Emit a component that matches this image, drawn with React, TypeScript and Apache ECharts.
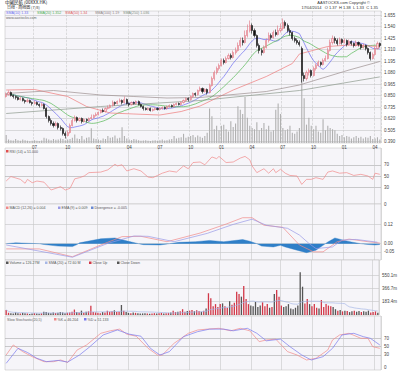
import React, { useEffect, useRef } from "react";
import * as echarts from "echarts";

// ---------- data (weekly bars, 8 Apr 2011 – 17 Apr 2014) ----------
const START_DATE = "2011-04-08";
const LAST_DATE = "2014-04-17";
const BAR_COUNT = 159;

// [open, close, low, high]
const CANDLES: number[][] = [
  [0.84,0.86,0.83,0.88],[0.86,0.88,0.85,0.90],[0.88,0.85,0.84,0.89],[0.85,0.84,0.82,0.86],[0.84,0.83,0.81,0.85],[0.83,0.81,0.80,0.84],[0.81,0.82,0.80,0.84],[0.82,0.80,0.79,0.83],
  [0.80,0.79,0.77,0.81],[0.79,0.80,0.78,0.82],[0.80,0.78,0.77,0.81],[0.78,0.77,0.75,0.79],[0.77,0.78,0.76,0.80],[0.78,0.76,0.75,0.79],[0.76,0.75,0.73,0.77],[0.75,0.76,0.74,0.78],
  [0.76,0.72,0.71,0.77],[0.72,0.64,0.62,0.73],[0.64,0.60,0.58,0.65],[0.60,0.57,0.55,0.62],[0.57,0.55,0.53,0.59],[0.55,0.57,0.54,0.59],[0.57,0.53,0.51,0.58],[0.53,0.52,0.50,0.55],
  [0.52,0.47,0.45,0.53],[0.47,0.45,0.42,0.49],[0.45,0.48,0.44,0.50],[0.48,0.55,0.47,0.57],[0.55,0.60,0.54,0.62],[0.60,0.63,0.59,0.65],[0.63,0.60,0.58,0.64],[0.60,0.62,0.59,0.63],
  [0.62,0.59,0.57,0.63],[0.59,0.61,0.58,0.62],[0.61,0.60,0.58,0.62],[0.60,0.62,0.59,0.63],[0.62,0.63,0.61,0.66],[0.63,0.65,0.62,0.66],[0.65,0.66,0.64,0.68],[0.66,0.68,0.65,0.69],
  [0.68,0.70,0.67,0.71],[0.70,0.69,0.68,0.72],[0.69,0.72,0.68,0.73],[0.72,0.73,0.71,0.75],[0.73,0.75,0.72,0.76],[0.75,0.78,0.74,0.80],[0.78,0.77,0.75,0.79],[0.77,0.79,0.76,0.80],
  [0.79,0.80,0.78,0.82],[0.80,0.78,0.76,0.81],[0.78,0.81,0.77,0.84],[0.81,0.77,0.76,0.82],[0.77,0.76,0.74,0.78],[0.76,0.78,0.75,0.79],[0.78,0.77,0.76,0.79],[0.77,0.79,0.76,0.80],
  [0.79,0.76,0.75,0.80],[0.76,0.74,0.73,0.77],[0.74,0.72,0.70,0.75],[0.72,0.71,0.70,0.73],[0.71,0.72,0.70,0.73],[0.72,0.70,0.69,0.73],[0.70,0.71,0.69,0.72],[0.71,0.72,0.70,0.73],
  [0.72,0.71,0.70,0.73],[0.71,0.72,0.70,0.73],[0.72,0.73,0.71,0.74],[0.73,0.72,0.71,0.74],[0.72,0.74,0.71,0.75],[0.74,0.75,0.73,0.76],[0.75,0.74,0.73,0.76],[0.74,0.76,0.73,0.77],
  [0.76,0.77,0.75,0.78],[0.77,0.76,0.75,0.78],[0.76,0.78,0.75,0.79],[0.78,0.80,0.77,0.81],[0.80,0.82,0.79,0.83],[0.82,0.81,0.79,0.83],[0.81,0.84,0.80,0.85],[0.84,0.87,0.83,0.88],
  [0.87,0.86,0.84,0.88],[0.86,0.90,0.85,0.91],[0.90,0.92,0.89,0.94],[0.92,0.89,0.87,0.93],[0.89,0.91,0.88,0.92],[0.91,0.88,0.86,0.92],[0.88,0.95,0.87,0.97],[0.95,1.02,0.94,1.04],
  [1.02,1.08,1.00,1.10],[1.08,1.12,1.06,1.14],[1.12,1.15,1.10,1.17],[1.15,1.20,1.14,1.22],[1.20,1.18,1.16,1.22],[1.18,1.22,1.17,1.24],[1.22,1.25,1.21,1.27],[1.25,1.23,1.21,1.27],
  [1.23,1.28,1.22,1.30],[1.28,1.30,1.26,1.33],[1.30,1.35,1.29,1.38],[1.35,1.40,1.33,1.43],[1.40,1.38,1.35,1.43],[1.38,1.45,1.37,1.50],[1.45,1.50,1.43,1.56],[1.50,1.55,1.48,1.60],
  [1.55,1.50,1.47,1.57],[1.50,1.45,1.43,1.52],[1.45,1.35,1.33,1.46],[1.35,1.30,1.27,1.37],[1.30,1.28,1.25,1.32],[1.28,1.33,1.27,1.35],[1.33,1.40,1.32,1.42],[1.40,1.45,1.38,1.48],
  [1.45,1.43,1.41,1.47],[1.43,1.48,1.42,1.50],[1.48,1.46,1.44,1.51],[1.46,1.50,1.45,1.55],[1.50,1.52,1.48,1.57],[1.52,1.58,1.50,1.62],[1.58,1.55,1.52,1.60],[1.55,1.50,1.48,1.57],
  [1.50,1.48,1.45,1.52],[1.48,1.42,1.40,1.49],[1.42,1.40,1.38,1.44],[1.40,1.38,1.36,1.42],[1.38,1.36,1.34,1.40],[1.32,1.05,0.98,1.34],[1.05,1.02,0.99,1.08],[1.02,1.08,1.00,1.10],
  [1.08,1.10,1.05,1.12],[1.10,1.05,1.03,1.11],[1.05,1.12,1.04,1.14],[1.12,1.15,1.10,1.17],[1.15,1.18,1.14,1.20],[1.18,1.16,1.14,1.19],[1.16,1.20,1.15,1.22],[1.20,1.22,1.19,1.25],
  [1.22,1.30,1.21,1.33],[1.30,1.38,1.29,1.41],[1.38,1.42,1.36,1.45],[1.42,1.40,1.37,1.44],[1.40,1.37,1.35,1.42],[1.37,1.41,1.36,1.43],[1.41,1.38,1.36,1.42],[1.38,1.40,1.37,1.42],
  [1.40,1.36,1.34,1.41],[1.36,1.39,1.35,1.41],[1.39,1.37,1.35,1.40],[1.37,1.35,1.33,1.38],[1.35,1.38,1.34,1.40],[1.38,1.36,1.34,1.39],[1.36,1.33,1.31,1.37],[1.33,1.35,1.32,1.37],
  [1.35,1.32,1.30,1.36],[1.32,1.28,1.26,1.33],[1.28,1.22,1.20,1.29],[1.22,1.26,1.21,1.28],[1.26,1.32,1.25,1.34],[1.32,1.37,1.31,1.39],[1.37,1.35,1.33,1.38],
];

// weekly volume, millions of shares
const VOLUME_M: number[] = [
  70,30,25,22,35,25,20,30,25,20,15,20,25,20,18,22,
  45,40,30,25,35,28,30,40,35,25,30,35,
  45,75,40,35,60,30,45,50,128,40,35,30,25,40,35,60,45,50,65,40,45,138,60,40,
  30,25,35,30,25,20,22,25,20,18,22,25,20,25,30,22,25,30,35,60,40,45,50,80,45,55,60,70,50,65,55,45,60,90,
  300,232,120,150,110,150,160,120,100,190,140,170,321,290,253,400,220,150,130,120,180,110,130,175,120,150,100,110,290,345,253,130,110,120,150,90,80,100,130,
  589,390,160,220,150,120,150,100,90,207,110,150,130,120,110,80,60,70,50,60,55,40,50,60,45,55,40,50,45,60,35,40,50,30,
];

// moving averages: [bar index, value]
const SMA50_PTS = [[0,0.905],[12,0.91],[26,0.84],[34,0.74],[44,0.675],[54,0.665],[65,0.655],[74,0.69],[82,0.745],[96,0.905],[110,1.04],[121,1.17],[124,1.265],[136,1.34],[145,1.355],[158,1.34]];
const SMA100_PTS = [[0,0.87],[20,0.9],[40,0.855],[54,0.84],[68,0.825],[82,0.83],[110,0.89],[124,0.955],[145,1.105],[158,1.19]];
const SMA250_PTS = [[0,0.67],[40,0.74],[82,0.80],[124,0.90],[158,1.036]];

const RSI_PTS = [[0,41],[2,49],[6,44],[8,37],[9,44],[11,38],[13,41],[16,39],[19,25],[21,28],[23,31],[25,25],[27,28],[29,45],[31,47],[33,50],[35,56],[40,57],[43,61],[46,71],[47,68],[49,70],[51,59],[54,63],[57,59],[60,48],[62,47],[64,51],[66,55],[69,59],[72,57],[75,68],[77,63],[79,74],[82,75],[84,70],[87,84],[89,81],[90,85],[93,74],[96,75],[99,82],[101,85],[103,79],[104,68],[106,56],[109,63],[111,55],[113,63],[114,56],[116,62],[118,55],[120,51],[123,50],[125,35],[127,44],[129,44],[131,47],[134,44],[136,57],[138,59],[141,55],[144,56],[147,51],[150,53],[153,50],[155,44],[156,55],[158,53]];

const MACD_PTS = [[0,-0.032],[14,-0.032],[28,-0.08],[40,-0.008],[49,0.043],[57,0.045],[68,0.012],[82,0.065],[93,0.12],[100,0.159],[104,0.159],[109,0.113],[117,0.10],[124,-0.008],[130,-0.05],[134,-0.05],[140,0.012],[145,0.028],[153,0.012],[158,0.004]];
const SIGNAL_PTS = [[0,-0.008],[28,-0.083],[43,0.002],[54,0.047],[60,0.045],[71,0.012],[85,0.063],[96,0.118],[104,0.15],[110,0.113],[119,0.094],[124,0.053],[128,0.002],[131,-0.03],[138,-0.02],[142,0.022],[148,0.026],[157,0.009]];
const DIV_PTS = [[0,0],[4,0.005],[14,0],[16,-0.005],[22,-0.015],[28,-0.018],[30,-0.005],[31,0.005],[40,0.03],[46,0.035],[53,0.01],[56,0],[58,-0.006],[65,-0.008],[69,0],[73,0.008],[80,0.012],[86,0.02],[92,0.012],[100,0.025],[103,0.015],[106,0],[108,-0.015],[113,-0.02],[116,-0.01],[118,-0.02],[123,-0.04],[127,-0.055],[131,-0.04],[134,-0.01],[136,0.01],[139,0.035],[143,0.02],[146,0.01],[150,0],[153,-0.005],[156,-0.008],[158,-0.005]];

const K_PTS = [[0,30],[3,54],[7,38],[11,26],[16,14],[20,14],[23,18],[26,12],[30,42],[34,54],[40,82],[44,88],[48,92],[51,80],[55,75],[60,46],[64,30],[66,30],[71,58],[77,82],[81,90],[85,92],[90,94],[95,88],[99,94],[103,88],[107,62],[110,66],[114,68],[119,38],[123,30],[127,18],[131,22],[136,42],[138,66],[141,78],[145,82],[150,70],[153,70],[155,50],[158,46]];
const D_PTS = [[0,10],[5,46],[9,36],[13,22],[17,14],[22,17],[26,13],[31,30],[35,48],[41,78],[47,90],[52,80],[57,75],[61,46],[65,30],[69,38],[75,74],[81,86],[86,92],[92,92],[96,88],[102,94],[106,82],[110,64],[116,68],[120,50],[125,30],[129,18],[134,26],[138,46],[142,78],[147,82],[151,74],[154,70],[158,54]];

const PRICE_TICKS = [0.39,0.505,0.62,0.735,0.85,0.965,1.08,1.195,1.31,1.425,1.54,1.655];
const RSI_LINES = [30,50,70];
const RSI_LABELS = [0,30,50,70];
const MACD_TICKS = [-0.05,0,0.12];
const VOL_TICKS_M = [183.4,366.7,550.1];
const STOCH_LINES = [30,50,70];
const STOCH_LABELS = [0,30,50,70];

// ---------- helpers ----------
function buildDates(): string[] {
  const out: string[] = [];
  const d0 = new Date(START_DATE + "T00:00:00Z");
  for (let i = 0; i < BAR_COUNT - 1; i++) {
    const d = new Date(d0.getTime() + i * 7 * 86400000);
    out.push(d.toISOString().slice(0, 10));
  }
  out.push(LAST_DATE);
  return out;
}
const DATES = buildDates();
const isQuarterStart = (idx: number) => {
  const s = DATES[idx];
  const m = +s.slice(5, 7), day = +s.slice(8, 10);
  return day <= 7 && (m === 1 || m === 4 || m === 7 || m === 10);
};
function sma(vals: number[], n: number) {
  return vals.map((_, i) => {
    const from = Math.max(0, i - n + 1);
    const sl = vals.slice(from, i + 1);
    return +(sl.reduce((a, b) => a + b, 0) / sl.length).toFixed(4);
  });
}

const CLOSES = CANDLES.map((c) => c[1]);
const SMA10 = sma(CLOSES, 10);
const SMA20 = sma(CLOSES, 20);
const VOL_SMA20 = sma(VOLUME_M, 20);

const FONT = "'Liberation Sans', Arial, sans-serif";
const CJK = "'Noto Sans CJK TC', 'Noto Sans CJK SC', sans-serif";
const GRID_BG = "#f6f5f9";

export default function App() {
  const ref = useRef<HTMLDivElement>(null);
  useEffect(() => {
    document.body.style.margin = "0";
    const chart = echarts.init(ref.current!, undefined, { renderer: "svg" });
    const grids = [
      { top: 11, height: 132 },
      { top: 148, height: 56 },
      { top: 204, height: 56 },
      { top: 260, height: 55 },
      { top: 316, height: 54 },
    ].map((g) => ({
      left: 5, right: 19, top: g.top, height: g.height, show: true,
      backgroundColor: GRID_BG, borderColor: "#b8b8b8", borderWidth: 0.5,
    }));
    const xAxes = grids.map((_, gi) => ({
      type: "category", gridIndex: gi, data: DATES, boundaryGap: true,
      axisLine: { show: false }, axisTick: { show: false },
      axisLabel: {
        show: gi === 0, interval: (i: number) => isQuarterStart(i),
        formatter: (v: string) => v.slice(5, 7), fontSize: 4.5, color: "#444", margin: 2, fontFamily: FONT,
      },
      splitLine: {
        show: true, interval: (i: number) => isQuarterStart(i),
        lineStyle: { color: "#c8c8c8", width: 0.6, type: gi === 0 ? "dashed" : "solid" },
      },
    }));
    const yLab = { fontSize: 4.5, color: "#444", margin: 3, fontFamily: FONT };
    const ySplit = { show: true, lineStyle: { color: "#c4c4c4", width: 0.6 } };
    const yAxes: any[] = [
      { type: "value", gridIndex: 0, position: "right", min: 0.375, max: 1.695, axisLine: { show: false },
        axisTick: { show: false, customValues: PRICE_TICKS },
        axisLabel: { ...yLab, customValues: PRICE_TICKS, formatter: (v: number) => v.toFixed(3) }, splitLine: ySplit },
      { type: "value", gridIndex: 0, min: 0, max: 1150, show: false, splitLine: { show: false } },
      { type: "value", gridIndex: 1, position: "right", min: 0, max: 100, axisLine: { show: false },
        axisTick: { show: false, customValues: RSI_LINES },
        axisLabel: { ...yLab, customValues: RSI_LABELS }, splitLine: { show: true, lineStyle: { color: "#aaa", width: 0.6 } } },
      { type: "value", gridIndex: 2, position: "right", min: -0.1, max: 0.243, axisLine: { show: false },
        axisTick: { show: false, customValues: MACD_TICKS },
        axisLabel: { ...yLab, customValues: MACD_TICKS, formatter: (v: number) => v.toFixed(2) }, splitLine: ySplit },
      { type: "value", gridIndex: 3, position: "right", min: 0, max: 758, axisLine: { show: false },
        axisTick: { show: false, customValues: VOL_TICKS_M },
        axisLabel: { ...yLab, customValues: VOL_TICKS_M, formatter: (v: number) => v.toFixed(1) + "m" }, splitLine: ySplit },
      { type: "value", gridIndex: 4, position: "right", min: -6, max: 123.5, axisLine: { show: false },
        axisTick: { show: false, customValues: STOCH_LINES },
        axisLabel: { ...yLab, customValues: STOCH_LABELS }, splitLine: { show: true, lineStyle: { color: "#aaa", width: 0.6 } } },
    ];
    const line = (name: string, data: any, x: number, y: number, color: string, extra: any = {}) => ({
      name, type: "line", xAxisIndex: x, yAxisIndex: y, data, symbol: "none", connectNulls: true,
      lineStyle: { color, width: 0.7 }, itemStyle: { color }, z: 3, ...extra,
    });
    const upDown = CANDLES.map((c) => c[1] >= c[0]);
    const series: any[] = [
      { name: "volOverlay", type: "bar", xAxisIndex: 0, yAxisIndex: 1, data: VOLUME_M, barWidth: 1.1,
        itemStyle: { color: "#b0b0b0" }, z: 1 },
      { name: "price", type: "candlestick", xAxisIndex: 0, yAxisIndex: 0, data: CANDLES, barWidth: 1.6,
        itemStyle: { color: "#f7d5da", color0: "#111", borderColor: "#e0707e", borderColor0: "#111", borderWidth: 0.6 }, z: 4 },
      line("SMA10", SMA10, 0, 0, "#6b6bf0"),
      line("SMA20", SMA20, 0, 0, "#55b855"),
      line("SMA50", SMA50_PTS, 0, 0, "#ee7a7a"),
      line("SMA100", SMA100_PTS, 0, 0, "#9c8f8f"),
      line("SMA250", SMA250_PTS, 0, 0, "#8d9a8d"),
      line("RSI", RSI_PTS, 1, 2, "#f08a8a"),
      line("DIV", DIV_PTS, 2, 3, "#2f7fc8", { areaStyle: { color: "#2f7fc8", opacity: 1 }, lineStyle: { width: 0.4, color: "#2f7fc8" } }),
      line("MACD", MACD_PTS, 2, 3, "#f08a8a"),
      line("EMA9", SIGNAL_PTS, 2, 3, "#9a9ae6"),
      { name: "vol", type: "bar", xAxisIndex: 3, yAxisIndex: 4, barWidth: 1.3,
        data: VOLUME_M.map((v, i) => ({ value: v, itemStyle: { color: upDown[i] ? "#d23848" : "#555" } })) },
      line("VOLSMA", VOL_SMA20, 3, 4, "#a7b7e6"),
      line("K", K_PTS, 4, 5, "#f08a8a"),
      line("D", D_PTS, 4, 5, "#7a7aee"),
    ];
    const t = (text: string, x: number, y: number, fill: string, fontSize = 4, extra: any = {}) => ({
      type: "text", x, y, z: 10, style: { text, fill, fontSize, fontFamily: FONT, ...extra },
    });
    const sq = (x: number, y: number, fill: string) => ({ type: "rect", z: 10, shape: { x, y, width: 2.5, height: 2.5 }, style: { fill } });
    const graphic = [
      t("中國民航 (00XXX.HK)", 5, 0, "#111", 4.5, { fontFamily: CJK }),
      t("日線 - 周線圖 (7/8)", 7, 5, "#333", 4, { fontFamily: CJK }),
      t("AASTOCKS.com Copyright ©", 370, 0, "#333", 4, { align: "right" }),
      t("17/04/2014   O 1.37  H 1.38  L 1.33  C 1.35", 378, 5.5, "#333", 4, { align: "right" }),
      t("SMA(10) 1.33", 6, 11, "#6b6bf0", 3.6),
      t("SMA(20) 1.352", 37, 11, "#4caf50", 3.6),
      t("SMA(50) 1.34", 65, 11, "#e06060", 3.6),
      t("SMA(100) 1.19", 95, 11, "#8c8080", 3.6),
      t("SMA(250) 1.036", 123, 11, "#7f907f", 3.6),
      t("www.aastocks.com", 6, 15.5, "#666", 3.6),
      sq(6, 150, "#e05050"), t("RSI (14) = 51.000", 9.5, 149.5, "#555", 3.6),
      sq(6, 206.5, "#f08a8a"), t("MACD (12,26) = 0.004", 9.5, 206, "#555", 3.6),
      sq(58, 206.5, "#9a9ae6"), t("EMA (9) = 0.009", 61.5, 206, "#555", 3.6),
      sq(91, 206.5, "#6a8ad0"), t("Divergence = -0.005", 94.5, 206, "#555", 3.6),
      sq(6, 261.5, "#555"), t("Volume = 126.27M", 9.5, 261, "#555", 3.6),
      sq(45, 261.5, "#a7b7e6"), t("SMA (20) = 72.60 M", 48.5, 261, "#555", 3.6),
      sq(89, 261.5, "#d23848"), t("Close Up", 92.5, 261, "#555", 3.6),
      sq(117, 261.5, "#555"), t("Close Down", 120.5, 261, "#555", 3.6),
      t("Slow Stochastic(20,5)", 7, 317.5, "#666", 3.6),
      sq(54, 318, "#f08a8a"), t("%K = 46.204", 57.5, 317.5, "#555", 3.6),
      sq(84, 318, "#7a7aee"), t("%D = 51.133", 87.5, 317.5, "#555", 3.6),
    ];
    chart.setOption({
      animation: false, backgroundColor: "#ffffff",
      textStyle: { fontFamily: FONT },
      grid: grids, xAxis: xAxes, yAxis: yAxes, series, graphic,
    });
    return () => chart.dispose();
  }, []);
  return <div ref={ref} style={{ position: "fixed", left: 0, top: 0, width: 400, height: 373 }} />;
}
